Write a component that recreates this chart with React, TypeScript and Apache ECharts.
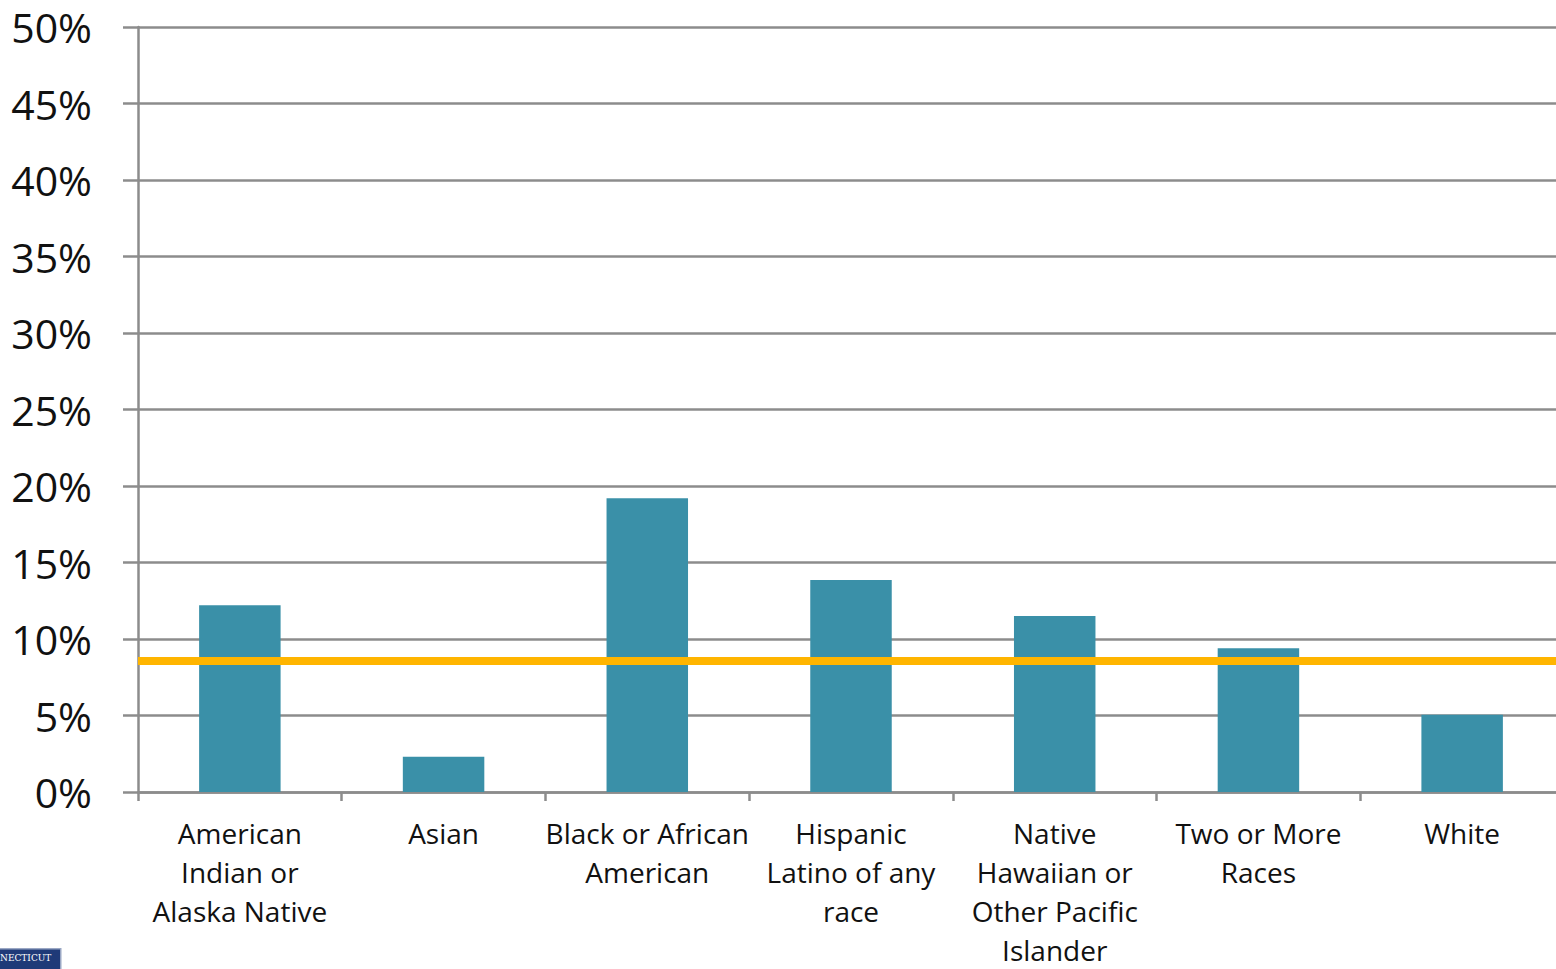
import React, { useEffect, useRef } from "react";
import * as echarts from "echarts";

const categories = [
  "American\nIndian or\nAlaska Native",
  "Asian",
  "Black or African\nAmerican",
  "Hispanic\nLatino of any\nrace",
  "Native\nHawaiian or\nOther Pacific\nIslander",
  "Two or More\nRaces",
  "White",
];
const values = [12.2, 2.3, 19.2, 13.85, 11.5, 9.4, 5.05];
const referenceValue = 8.57;
const yTicks = { min: 0, max: 50, interval: 5 };

export default function App() {
  const ref = useRef<HTMLDivElement>(null);
  useEffect(() => {
    if (!ref.current) return;
    const chart = echarts.init(ref.current, null, { renderer: "svg" });
    chart.setOption({
      animation: false,
      backgroundColor: "#ffffff",
      grid: { left: 138, top: 27, height: 772, width: 1426, containLabel: false },
      xAxis: {
        type: "category",
        data: categories,
        axisLine: { show: true, lineStyle: { color: "#8c8c8c", width: 2.5 } },
        axisTick: { show: true, length: 9, lineStyle: { color: "#8c8c8c", width: 2.5 } },
        axisLabel: {
          interval: 0,
          margin: 21,
          color: "#111",
          fontFamily: "Open Sans",
          fontSize: 28,
          lineHeight: 39,
        },
      },
      yAxis: {
        type: "value",
        min: yTicks.min,
        max: yTicks.max,
        interval: yTicks.interval,
        axisLine: { show: true, lineStyle: { color: "#8c8c8c", width: 2.5 } },
        axisTick: { show: true, length: 15, lineStyle: { color: "#8c8c8c", width: 2.5 } },
        splitLine: { show: true, lineStyle: { color: "#8c8c8c", width: 2.5 } },
        axisLabel: {
          margin: 46,
          color: "#111",
          fontFamily: "Open Sans",
          fontSize: 41,
          formatter: (v: number) => `${v}%`,
        },
      },
      series: [
        {
          type: "bar",
          data: values,
          barWidth: "40%",
          itemStyle: { color: "#3a90a8" },
          markLine: {
            silent: true,
            symbol: "none",
            label: { show: false },
            lineStyle: { color: "#ffb500", width: 8, type: "solid" },
            data: [{ yAxis: referenceValue }],
          },
          z: 2,
        },
      ],
      graphic: [
        {
          type: "rect",
          left: -4,
          top: 948,
          shape: { width: 64, height: 22 },
          style: { fill: "#1f3a78", stroke: "#9aa7c4", lineWidth: 1.5 },
        },
        {
          type: "text",
          left: 0,
          top: 953,
          style: {
            text: "NECTICUT",
            fill: "#ffffff",
            font: "9px 'DejaVu Serif'",
          },
        },
      ],
    });
    return () => chart.dispose();
  }, []);
  return (
    <div
      style={{
        position: "fixed",
        left: 0,
        top: 0,
        width: 1556,
        height: 969,
        overflow: "hidden",
        background: "#fff",
      }}
    >
      <div ref={ref} style={{ width: 1564, height: 969 }} />
    </div>
  );
}
